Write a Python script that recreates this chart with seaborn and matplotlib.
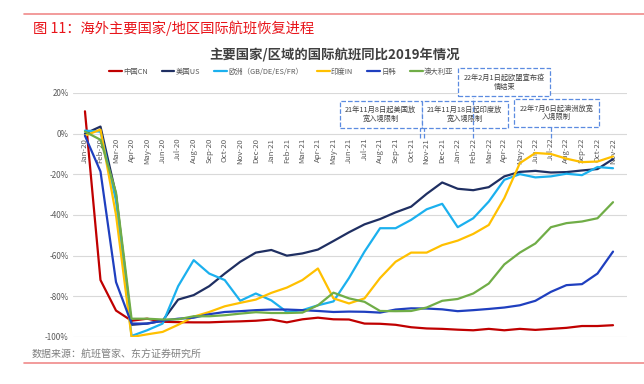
import numpy as np
import pandas as pd
import matplotlib
matplotlib.use("Agg")
import matplotlib.pyplot as plt
from matplotlib.lines import Line2D
import seaborn as sns

# 月份（Jan-20 ~ Nov-22）
months = ['Jan-20', 'Feb-20', 'Mar-20', 'Apr-20', 'May-20', 'Jun-20', 'Jul-20', 'Aug-20',
          'Sep-20', 'Oct-20', 'Nov-20', 'Dec-20', 'Jan-21', 'Feb-21', 'Mar-21', 'Apr-21',
          'May-21', 'Jun-21', 'Jul-21', 'Aug-21', 'Sep-21', 'Oct-21', 'Nov-21', 'Dec-21',
          'Jan-22', 'Feb-22', 'Mar-22', 'Apr-22', 'May-22', 'Jun-22', 'Jul-22', 'Aug-22',
          'Sep-22', 'Oct-22', 'Nov-22']

# 国际航班同比2019（%）
cn = [11, -72, -87, -92, -91, -92.5, -92.7, -92.8, -92.8, -92.5, -92.3, -92, -91.4, -92.8,
      -91.3, -90.5, -91.3, -91.4, -93.4, -93.5, -94, -95.2, -95.8, -96, -96.4, -96.7, -96,
      -96.7, -96, -96.5, -96, -95.5, -94.6, -94.6, -94.2]
us = [0, 3.5, -30, -94, -93.4, -92, -81.6, -79.4, -75, -68.8, -63, -58.5, -57.2, -60, -58.9,
      -57, -52.8, -48.5, -44.6, -42, -38.7, -35.9, -29.6, -24, -27.1, -27.8, -26.3, -21,
      -18.8, -18.3, -19.1, -18.9, -18.1, -17.4, -12.5]
eu = [1.5, 1, -33, -99.5, -96.7, -93.4, -75, -62.2, -68.8, -72, -82.2, -78.6, -82, -87.7,
      -86.8, -84.4, -82.5, -71, -58, -46.5, -46.5, -42.4, -37.2, -34.5, -46, -41.6, -33.4,
      -22.7, -19.9, -21.5, -21, -19.7, -20.4, -16.4, -17]
india = [-1, 2, -40, -100, -98.7, -97.5, -94, -90, -87.7, -84.9, -83.2, -81.6, -78.3, -75.7,
         -72, -66.3, -81, -83.5, -81, -71, -63, -58.5, -58.5, -54.8, -52.6, -49.3, -44.9,
         -31.7, -14.5, -9.5, -10, -12.3, -14, -13.7, -11.2]
jk = [-1, -18.6, -73, -93.4, -93.4, -92, -91, -90.5, -88.8, -87.7, -87.3, -86.8, -86.5, -86.5,
      -86.8, -87.2, -87.7, -87.5, -87.6, -88, -86.5, -85.9, -86, -86.4, -87.3, -86.8, -86.2,
      -85.5, -84.4, -82.2, -77.8, -74.5, -74, -68.8, -58]
au = [1, -3, -29, -91, -91, -91.4, -91.3, -89.8, -89.8, -89.3, -88.5, -87.8, -88.2, -88.2,
      -88, -84.4, -78.2, -81, -82.7, -87.2, -87.3, -87.2, -85.5, -82.2, -81.3, -78.6, -73.7,
      -64.3, -58.5, -54, -46, -44, -43.2, -41.6, -33.7]

series_names = ['中国CN', '美国US', '欧洲（GB/DE/ES/FR）', '印度IN', '日韩', '澳大利亚']
series_vals = [cn, us, eu, india, jk, au]
colors = ['#C00000', '#1F2F62', '#1BB0EE', '#FFC000', '#1F3FBF', '#70AD47']

# 注释：文字、对应月份位置
notes = ['22年2月1日起欧盟宣布疫\n情结束', '21年11月8日起美国放\n宽入境限制',
         '21年11月18日起印度放\n宽入境限制', '22年7月6日起澳洲放宽\n入境限制']
note_xy = [(27.0, 25.3), (19.05, 9.4), (24.45, 9.4), (30.35, 10.3)]
lead_x = [25.0, 21.6, 21.8, 30.0]
lead_top = [17.5, 3.0, 3.0, 4.0]

df = pd.DataFrame({
    'idx': np.tile(np.arange(len(months)), len(series_names)),
    'value': np.concatenate(series_vals),
    'series': np.repeat(series_names, len(months)),
})

sns.set_style('white')
plt.rcParams['font.family'] = ['Noto Sans CJK SC', 'DejaVu Sans']

fig = plt.figure(figsize=(6.44, 3.84), dpi=100)
ax = fig.add_axes([73 / 644, 1 - 337 / 384, 554 / 644, 244 / 384])

sns.lineplot(data=df, x='idx', y='value', hue='series', hue_order=series_names,
             palette=dict(zip(series_names, colors)), linewidth=1.6, sort=False, ax=ax)

ax.set_xlim(-0.77, 34.9)
ax.set_ylim(-100, 20)
ax.set_xlabel('')
ax.set_ylabel('')
for s in ax.spines.values():
    s.set_visible(False)

ax.set_yticks(range(-100, 21, 20))
ax.set_yticklabels([f'{v}%' for v in range(-100, 21, 20)])
ax.tick_params(axis='y', length=0, pad=3, labelsize=5.8, labelcolor='#595959')
ax.yaxis.grid(True, color='#d9d9d9', linewidth=0.8)
ax.set_axisbelow(True)

# x轴标签放在0%线下方
ax.spines['bottom'].set_position(('data', 0))
ax.set_xticks(range(len(months)))
ax.set_xticklabels(months)
ax.set_xticks(np.arange(-0.5, len(months), 1), minor=True)
ax.tick_params(axis='x', which='major', length=0, pad=3, labelsize=5.6,
               labelcolor='#595959', labelrotation=90)
ax.tick_params(axis='x', which='minor', length=3, color='#d9d9d9', width=0.6)

handles, labels = ax.get_legend_handles_labels()
ax.legend(handles, labels, loc='center left', bbox_to_anchor=(109 / 644, 1 - 72 / 384),
          bbox_transform=fig.transFigure, ncol=6, frameon=False, fontsize=5.3,
          handlelength=1.7, handletextpad=0.2, columnspacing=1.9, borderpad=0,
          borderaxespad=0, labelcolor='#595959')

# 注释框
for txt, (x, y) in zip(notes, note_xy):
    ax.text(x, y, txt, ha='center', va='center', fontsize=5.2, color='#404040',
            linespacing=1.15, clip_on=False, zorder=5,
            bbox=dict(boxstyle='square,pad=0.75', fc='white', ec='#5B8BE0',
                      ls='--', lw=0.9))
for x, top in zip(lead_x, lead_top):
    ax.vlines(x, -2, top, colors='#5B8BE0', linestyles='--', linewidth=0.9,
              clip_on=False, zorder=6)

fig.add_artist(Line2D([24 / 644, 1], [1 - 14 / 384] * 2, transform=fig.transFigure,
                      color='#F08A8A', linewidth=1.2))
fig.add_artist(Line2D([24 / 644, 1], [1 - 363 / 384] * 2, transform=fig.transFigure,
                      color='#F08A8A', linewidth=1.2))
fig.text(33 / 644, 1 - 28 / 384, '图 11：海外主要国家/地区国际航班恢复进程', fontsize=10.3,
         color='#E8141A', ha='left', va='center')
fig.text(335 / 644, 1 - 55 / 384, '主要国家/区域的国际航班同比2019年情况', fontsize=9.6,
         color='#404040', ha='center', va='center', fontweight='bold')
fig.text(32 / 644, 1 - 354 / 384, '数据来源：航班管家、东方证券研究所', fontsize=7.2,
         color='#7f7f7f', ha='left', va='center')

fig.savefig('out.png', dpi=100)
